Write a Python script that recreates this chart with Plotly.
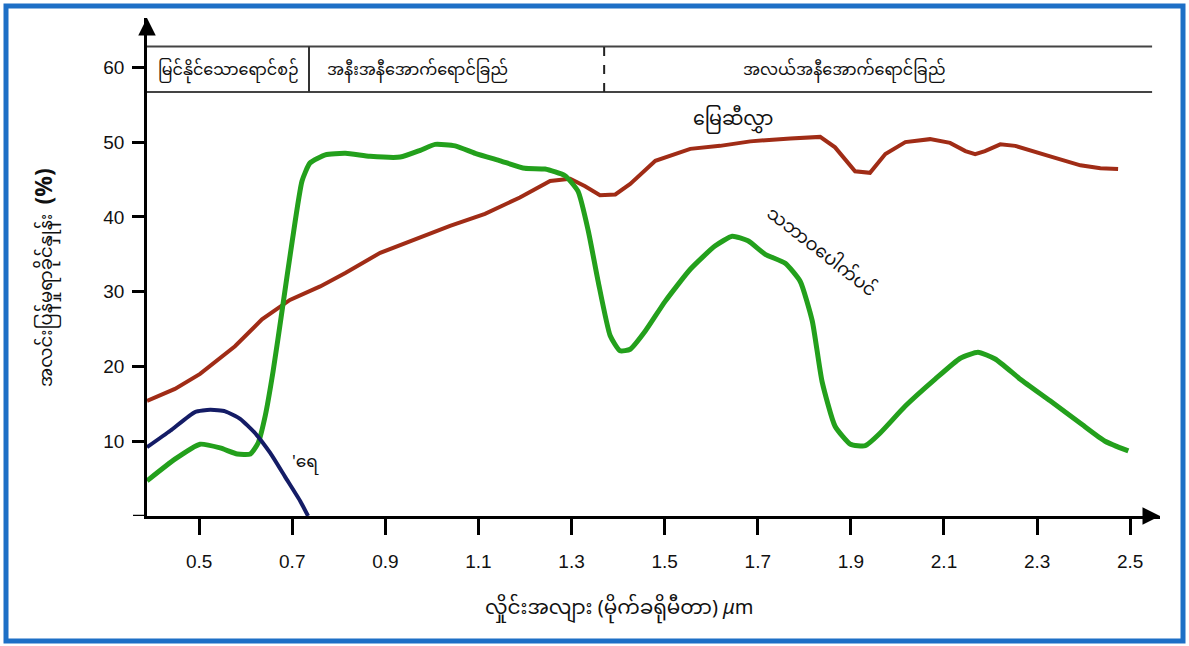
import plotly.graph_objects as go

# ---------------- data ----------------
soil_x = [0.388, 0.448, 0.502, 0.577, 0.635, 0.695, 0.760, 0.814, 0.889, 0.975, 1.039, 1.114,
          1.189, 1.254, 1.297, 1.329, 1.361, 1.394, 1.426, 1.480, 1.555, 1.619, 1.684, 1.770,
          1.834, 1.866, 1.909, 1.941, 1.974, 2.017, 2.070, 2.113, 2.146, 2.167, 2.188, 2.221,
          2.253, 2.328, 2.393, 2.436, 2.474]
soil_y = [15.4, 17.0, 19.0, 22.7, 26.3, 28.9, 30.7, 32.5, 35.2, 37.2, 38.8, 40.4,
          42.6, 44.8, 45.1, 44.1, 42.9, 43.0, 44.4, 47.5, 49.1, 49.5, 50.1, 50.5,
          50.7, 49.3, 46.1, 45.9, 48.4, 50.0, 50.4, 49.9, 48.8, 48.4, 48.8, 49.7,
          49.5, 48.1, 46.9, 46.5, 46.4]

veg_x = [0.388, 0.448, 0.502, 0.545, 0.582, 0.610, 0.627, 0.642, 0.659, 0.678, 0.700, 0.721,
         0.738, 0.771, 0.814, 0.867, 0.932, 0.975, 1.007, 1.050, 1.093, 1.147, 1.200, 1.243,
         1.286, 1.314, 1.336, 1.357, 1.383, 1.404, 1.426, 1.458, 1.501, 1.555, 1.608, 1.645,
         1.679, 1.716, 1.759, 1.791, 1.817, 1.838, 1.866, 1.899, 1.931, 1.963, 2.017, 2.081,
         2.135, 2.173, 2.210, 2.264, 2.328, 2.393, 2.446, 2.496]
veg_y = [4.7, 7.6, 9.6, 9.1, 8.3, 8.3, 9.8, 13.4, 19.4, 27.4, 36.8, 44.8,
         47.2, 48.3, 48.5, 48.1, 48.0, 48.9, 49.7, 49.5, 48.5, 47.5, 46.5, 46.4,
         45.5, 43.4, 38.1, 31.4, 24.1, 22.1, 22.3, 24.7, 28.7, 33.0, 36.1, 37.4,
         36.8, 35.0, 33.8, 31.4, 26.1, 18.0, 12.0, 9.6, 9.4, 11.1, 14.7, 18.3,
         21.1, 21.9, 21.0, 18.3, 15.4, 12.4, 10.0, 8.7]

water_x = [0.388, 0.438, 0.491, 0.524, 0.556, 0.588, 0.620, 0.653, 0.685, 0.717, 0.734]
water_y = [9.2, 11.4, 13.9, 14.2, 14.0, 13.0, 11.1, 8.4, 5.2, 2.0, 0.0]

x_ticks = [0.5, 0.7, 0.9, 1.1, 1.3, 1.5, 1.7, 1.9, 2.1, 2.3, 2.5]
y_ticks = [10, 20, 30, 40, 50, 60]

band_labels = ["မြင်နိုင်သောရောင်စဉ်", "အနီးအနီအောက်ရောင်ခြည်", "အလယ်အနီအောက်ရောင်ခြည်"]
band_label_x = [0.562, 0.968, 1.886]
band_edges = [0.736, 1.37]

soil_name = "မြေဆီလွှာ"
veg_name = "သဘာဝပေါက်ပင်"
water_name = "'ရေ"
y_title = "အလင်းပြန်မှုရာခိုင်နှုန်း"
x_title = "လှိုင်းအလျား (မိုက်ခရိုမီတာ) <i>μ</i>m"

# ---------------- styling ----------------
MY_FONT = "Noto Sans Myanmar, Padauk, Myanmar Text, Myanmar3, Noto Sans, sans-serif"
NUM_FONT = "Liberation Sans, Arial, sans-serif"
RED = "#a02c16"
GREEN = "#23a01c"
BLUE = "#141c66"

X_MIN, X_MAX = 0.388, 2.564
Y_MIN, Y_MAX = 0.0, 66.6
BAND_LO, BAND_HI = 56.7, 62.8
BAND_RIGHT = 2.547

fig = go.Figure()
fig.add_trace(go.Scatter(x=soil_x, y=soil_y, mode="lines",
                         line=dict(color=RED, width=4), hoverinfo="skip"))
fig.add_trace(go.Scatter(x=veg_x, y=veg_y, mode="lines",
                         line=dict(color=GREEN, width=5, shape="spline", smoothing=0.5),
                         hoverinfo="skip"))
fig.add_trace(go.Scatter(x=water_x, y=water_y, mode="lines",
                         line=dict(color=BLUE, width=4, shape="spline", smoothing=0.5),
                         hoverinfo="skip"))

shapes = []
for yv in (BAND_LO, BAND_HI):
    shapes.append(dict(type="line", xref="x", yref="y", x0=X_MIN, x1=BAND_RIGHT, y0=yv, y1=yv,
                       line=dict(color="#444444", width=2)))
shapes.append(dict(type="line", xref="x", yref="y", x0=band_edges[0], x1=band_edges[0],
                   y0=BAND_LO, y1=BAND_HI, line=dict(color="#333333", width=2)))
shapes.append(dict(type="line", xref="x", yref="y", x0=band_edges[1], x1=band_edges[1],
                   y0=BAND_LO, y1=BAND_HI, line=dict(color="#222222", width=2, dash="dash")))
# x axis small overhang to the left of the y axis
shapes.append(dict(type="line", xref="paper", yref="y", x0=(133 - 147) / 1013, x1=0,
                   y0=0, y1=0, line=dict(color="black", width=2.5)))
# outer blue frame
shapes.append(dict(type="rect", xref="paper", yref="paper",
                   x0=(6 - 147) / 1013, x1=(1183 - 147) / 1013,
                   y0=(516 - 641) / 498, y1=(516 - 6) / 498,
                   line=dict(color="#1d6fc6", width=5), layer="above"))

annotations = []
for lab, xv in zip(band_labels, band_label_x):
    annotations.append(dict(x=xv, y=59.4, xref="x", yref="y", text=lab, showarrow=False,
                            font=dict(family=MY_FONT, size=16, color="#111111")))
annotations.append(dict(x=1.647, y=52.9, xref="x", yref="y", text=soil_name, showarrow=False,
                        font=dict(family=MY_FONT, size=19, color="#111111")))
annotations.append(dict(x=1.834, y=35.2, xref="x", yref="y", text=veg_name, showarrow=False,
                        textangle=38, font=dict(family=MY_FONT, size=18, color="#111111")))
annotations.append(dict(x=0.728, y=7.1, xref="x", yref="y", text=water_name, showarrow=False,
                        font=dict(family=MY_FONT, size=17, color="#111111")))
annotations.append(dict(x=(47 - 147) / 1013, y=(516 - 278) / 498, xref="paper", yref="paper",
                        xanchor="center", yanchor="middle",
                        text=y_title + "  <b><span style='font-size:23px'>(%)</span></b>",
                        textangle=-90, showarrow=False,
                        font=dict(family=MY_FONT, size=18, color="#111111")))
annotations.append(dict(x=(619 - 147) / 1013, y=(516 - 609) / 498, xref="paper", yref="paper",
                        xanchor="center", yanchor="middle", text=x_title,
                        showarrow=False, font=dict(family=MY_FONT, size=20, color="#111111")))
annotations.append(dict(x=X_MAX, y=0, xref="x", yref="y", ax=-14, ay=0, text="", showarrow=True,
                        arrowhead=2, arrowsize=1.4, arrowwidth=2.5, arrowcolor="#000000"))
annotations.append(dict(x=X_MIN, y=Y_MAX, xref="x", yref="y", ax=0, ay=14, text="", showarrow=True,
                        arrowhead=2, arrowsize=1.4, arrowwidth=2.5, arrowcolor="#000000"))

fig.update_layout(
    width=1189, height=646,
    margin=dict(l=147, r=29, t=18, b=130),
    paper_bgcolor="white", plot_bgcolor="white",
    showlegend=False,
    shapes=shapes, annotations=annotations,
    xaxis=dict(range=[X_MIN, X_MAX], tickvals=x_ticks, ticktext=[f"{v:.1f}" for v in x_ticks],
               showgrid=False, zeroline=False, showline=True, linecolor="black", linewidth=2.5,
               ticks="outside", ticklen=16, tickwidth=2.5, tickcolor="black",
               ticklabelstandoff=10,
               tickfont=dict(family=NUM_FONT, size=19, color="#111111")),
    yaxis=dict(range=[Y_MIN, Y_MAX], tickvals=y_ticks, ticktext=[str(v) for v in y_ticks],
               showgrid=False, zeroline=False, showline=True, linecolor="black", linewidth=2.5,
               ticks="outside", ticklen=12, tickwidth=2.5, tickcolor="black",
               ticklabelstandoff=4,
               tickfont=dict(family=NUM_FONT, size=19, color="#111111")),
)

fig.write_html("out.html", config={"displayModeBar": False},
               post_script="document.body.style.margin='0';document.body.style.overflow='hidden';")
